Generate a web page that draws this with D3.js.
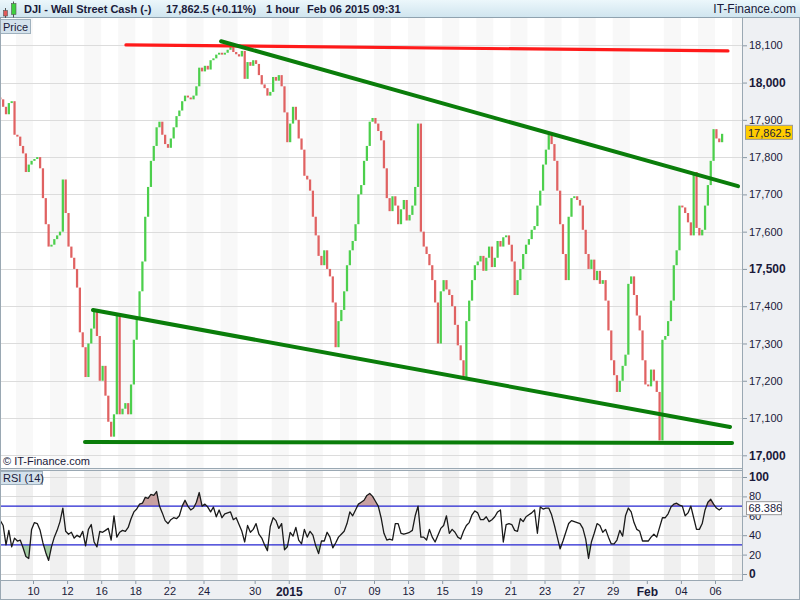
<!DOCTYPE html>
<html><head><meta charset="utf-8">
<script src="https://cdn.jsdelivr.net/npm/d3@7"></script>
<style>
html,body{margin:0;padding:0;background:#fff;}
svg{display:block;font-family:"Liberation Sans",Arial,sans-serif;}
</style></head><body>
<svg id="c" width="800" height="600"></svg>
<script>
// ---------- DATA ----------
const title = "DJI - Wall Street Cash (-)";
const quote = "17,862.5 (+0.11%)";
const period = "1 hour";
const stamp = "Feb 06 2015 09:31";

// hourly closes, grouped by trading day (Dec 08 2014 .. Feb 06 2015)
const firstOpen = 17960;
const closes = [
 17955,17935,17915,17945,17950,17860,
 17855,17830,17810,17760,17780,17790,
 17795,17800,17770,17690,17620,17560,
 17565,17580,17590,17600,17740,17650,
 17560,17530,17500,17450,17330,17290,
 17210,17300,17340,17385,17320,17200,
 17240,17160,17090,17050,17110,17380,
 17110,17125,17140,17110,17190,17310,
 17370,17440,17520,17640,17720,17790,
 17830,17880,17895,17860,17835,17825,
 17850,17880,17910,17925,17950,17965,
 17960,17955,17965,17990,18040,18030,
 18045,18035,18060,18065,18075,18080,
 18075,18080,18088,18095,18082,18076,
 18070,18085,18010,18055,18045,18060,
 18050,18020,17995,17985,17965,17975,
 18015,18005,18020,17990,17920,17840,
 17890,17935,17900,17850,17820,17750,
 17740,17710,17640,17590,17535,17510,
 17550,17500,17480,17410,17290,17360,
 17390,17440,17510,17550,17575,17620,
 17700,17725,17790,17830,17895,17905,
 17890,17870,17845,17770,17690,17655,
 17695,17670,17620,17660,17685,17630,
 17645,17670,17720,17890,17600,17560,
 17540,17510,17470,17410,17300,17440,
 17470,17445,17430,17400,17350,17295,
 17255,17210,17360,17415,17470,17510,
 17520,17535,17495,17530,17560,17505,
 17530,17575,17560,17585,17590,17565,
 17520,17430,17470,17500,17540,17565,
 17580,17605,17615,17670,17710,17780,
 17820,17860,17835,17790,17710,17620,
 17540,17470,17640,17690,17695,17685,
 17670,17605,17540,17500,17525,17470,
 17495,17460,17470,17415,17335,17255,
 17215,17170,17200,17240,17270,17460,
 17480,17430,17375,17335,17255,17190,
 17185,17230,17200,17170,17040,17310,
 17320,17360,17415,17510,17550,17670,
 17665,17650,17625,17590,17760,17610,
 17590,17605,17670,17725,17790,17875,
 17850,17840,17862.5
];

// RSI(14) values, one per bar
const rsiValues = [
 55,50,30,45,28,37, 34,35,27,18,16,46, 53,52,45,32,22,14, 28,38,45,54,68,44,
 41,43,37,40,38,44, 29,46,51,33,28,44, 43,45,47,35,60,38, 43,45,44,48,57,64,
 67,72,73,79,78,82, 81,85,70,63,55,52, 56,58,57,60,70,76, 70,66,68,74,84,70,
 72,69,64,69,59,66, 58,62,63,64,56,58, 51,44,33,50,43,46, 52,41,37,30,24,49,
 58,55,47,52,25,28, 43,39,48,35,31,46, 38,44,40,29,21,34, 34,43,38,27,32,38,
 41,44,52,64,60,66, 72,74,76,81,83,80, 75,70,58,42,35,36, 35,52,52,42,41,42,
 43,45,60,70,38,38, 35,46,38,33,40,47, 50,60,42,46,43,38, 36,44,50,53,61,65,
 63,56,56,59,54,56, 59,64,66,33,51,52, 51,45,44,57,54,59, 61,63,66,42,69,67,
 68,68,61,50,38,26, 34,43,52,55,54,53, 52,47,36,16,33,42, 52,50,43,46,38,31,
 31,35,45,39,60,68, 64,53,46,44,34,34, 34,38,41,38,48,58, 58,62,69,72,73,71,
 70,60,63,70,58,46, 46,52,66,74,77,72, 68,66,68.386
];

const priceTicks = [17000,17100,17200,17300,17400,17500,17600,17700,17800,17900,18000,18100];
const boldPriceTicks = [17000,17500,18000];
const rsiTicks = [0,20,40,60,80,100];
const boldRsiTicks = [0,100];
const rsiLevels = [30,70];

// day index: 0 = Dec 08 2014 ... 42 = Feb 06 2015
const axisDays   = [2,4,6,8,10,12,15,17,20,22,24,26,28,30,32,34,36,38,40,42];
const axisLabels = ["10","12","16","18","22","24","30","2015","07","09","13","15","19","21","23","27","29","Feb","04","06"];
const boldAxisLabels = ["2015","Feb"];
const shadedDays = [1,3,5,7,9,11,13,16,18,20,22,24,26,28,30,32,34,36,39,41,43];

// drawn trend lines: [day, price] end points
const redLine     = [[7.45,18101],[42.76,18085]];
const upperLine   = [[13.03,18111],[43.35,17722]];
const lowerLine   = [[5.52,17390],[42.88,17076]];
const supportLine = [[5.05,17036],[43.0,17033]];

const lastPrice = 17862.5;
const lastRsi = 68.386;

// ---------- LAYOUT ----------
const W = 800, H = 600;
const plotL = 1, plotR = 742;
const priceTop = 18, priceBot = 468;
const rsiTop = 470, rsiBot = 580;
const barsPerDay = 6;
const nDays = 43;
const green = "#4ccf4c", red = "#e06262";
const txt = "#1a1a3a";

const svg = d3.select("#c");

const x = d3.scaleLinear().domain([0, nDays]).range([-1.1, -1.1 + 17.05*nDays]);
const yP = d3.scaleLinear().domain([17000, 18100]).range([455.3, 45.3]);
const yR = d3.scaleLinear().domain([0, 100]).range([574, 477]);
const barPos = i => Math.floor(i/barsPerDay) + ((i%barsPerDay)+0.5)/barsPerDay;

// backgrounds
svg.append("rect").attr("width",W).attr("height",H).attr("fill","#eef0f3");
svg.append("rect").attr("x",plotL).attr("y",priceTop).attr("width",plotR-plotL).attr("height",priceBot-priceTop).attr("fill","#fff");
svg.append("rect").attr("x",plotL).attr("y",rsiTop).attr("width",plotR-plotL).attr("height",rsiBot-rsiTop).attr("fill","#fff");

const defs = svg.append("defs");
const hg = defs.append("linearGradient").attr("id","hg").attr("x1",0).attr("y1",0).attr("x2",0).attr("y2",1);
hg.append("stop").attr("offset","0%").attr("stop-color","#ecf7fb");
hg.append("stop").attr("offset","100%").attr("stop-color","#d0e5ef");
defs.append("clipPath").attr("id","cp").append("rect").attr("x",plotL).attr("y",priceTop).attr("width",plotR-plotL).attr("height",priceBot-priceTop);
defs.append("clipPath").attr("id","cr").append("rect").attr("x",plotL).attr("y",rsiTop).attr("width",plotR-plotL).attr("height",rsiBot-rsiTop);
defs.append("clipPath").attr("id","cOver").append("rect").attr("x",plotL).attr("y",rsiTop).attr("width",plotR-plotL).attr("height",yR(70)-rsiTop);
defs.append("clipPath").attr("id","cUnder").append("rect").attr("x",plotL).attr("y",yR(30)).attr("width",plotR-plotL).attr("height",rsiBot-yR(30));

// ---------- PRICE PANEL ----------
const gp = svg.append("g").attr("clip-path","url(#cp)");
gp.selectAll("rect.band").data(shadedDays).join("rect").attr("class","band")
  .attr("x",d=>x(d)).attr("width",d=>x(d+1)-x(d)).attr("y",priceTop).attr("height",priceBot-priceTop).attr("fill","#f8f8f8");
gp.selectAll("line.grid").data(priceTicks).join("line").attr("class","grid")
  .attr("x1",plotL).attr("x2",plotR).attr("y1",d=>Math.round(yP(d))+0.5).attr("y2",d=>Math.round(yP(d))+0.5)
  .attr("stroke","#dcdcdc");

const bars = closes.map((c,i)=>({i, open: i ? closes[i-1] : firstOpen, close: c}));
const slot = x(1/barsPerDay) - x(0);
const bw = slot - 0.6;
gp.selectAll("rect.bar").data(bars).join("rect").attr("class","bar")
  .attr("x",d=>x(barPos(d.i)) - bw/2).attr("width",bw)
  .attr("y",d=>yP(Math.max(d.open,d.close)))
  .attr("height",d=>Math.max(1, Math.abs(yP(d.open)-yP(d.close))))
  .attr("fill",d=>d.close>=d.open ? green : red);

const tl = (pts,color,w) => gp.append("line")
  .attr("x1",x(pts[0][0])).attr("y1",yP(pts[0][1])).attr("x2",x(pts[1][0])).attr("y2",yP(pts[1][1]))
  .attr("stroke",color).attr("stroke-width",w).attr("stroke-linecap","round");
tl(redLine,"#ff1a1a",3.2);
tl(upperLine,"#0a7d0a",4);
tl(lowerLine,"#0a7d0a",4);
tl(supportLine,"#0a7d0a",4);

svg.append("text").attr("x",3).attr("y",465).attr("font-size",11).attr("fill",txt).text("© IT-Finance.com");

// price label box
svg.append("rect").attr("x",0.5).attr("y",19.5).attr("width",30).attr("height",14).attr("fill","#d4e2ec").attr("stroke","#9fb1be");
svg.append("text").attr("x",3).attr("y",30.5).attr("font-size",11).attr("fill",txt).text("Price");

// price axis
const pa = svg.append("g").attr("transform",`translate(${plotR},0)`)
  .call(d3.axisRight(yP).tickValues(priceTicks).tickSize(5).tickPadding(2).tickFormat(d3.format(",")));
pa.select(".domain").remove();
pa.selectAll(".tick line").attr("stroke","#8a98a4");
pa.selectAll(".tick text").attr("fill",txt).attr("font-family","Liberation Sans, Arial, sans-serif")
  .attr("font-size",d=>boldPriceTicks.includes(d)?12:11).attr("font-weight",d=>boldPriceTicks.includes(d)?"bold":"normal");

// current price marker
const py = yP(lastPrice);
svg.append("rect").attr("x",745.5).attr("y",py-8.5).attr("width",47).attr("height",14).attr("fill","#ffcc00").attr("stroke","#9a9a9a");
svg.append("text").attr("x",748).attr("y",py+3).attr("font-size",11).attr("fill",txt).text(d3.format(",.1f")(lastPrice));

// ---------- RSI PANEL ----------
const gr = svg.append("g").attr("clip-path","url(#cr)");
gr.selectAll("rect.band").data(shadedDays).join("rect").attr("class","band")
  .attr("x",d=>x(d)).attr("width",d=>x(d+1)-x(d)).attr("y",rsiTop).attr("height",rsiBot-rsiTop).attr("fill","#f0f0f0");
gr.selectAll("line.grid").data(rsiTicks).join("line").attr("class","grid")
  .attr("x1",plotL).attr("x2",plotR).attr("y1",d=>Math.round(yR(d))+0.5).attr("y2",d=>Math.round(yR(d))+0.5)
  .attr("stroke","#dadada");

const rsiPts = rsiValues.map((v,i)=>({i,v}));
gr.append("path").datum(rsiPts).attr("clip-path","url(#cOver)")
  .attr("d",d3.area().x(d=>x(barPos(d.i))).y0(yR(70)).y1(d=>yR(d.v)))
  .attr("fill","#c9a1a1");
gr.append("path").datum(rsiPts).attr("clip-path","url(#cUnder)")
  .attr("d",d3.area().x(d=>x(barPos(d.i))).y0(yR(30)).y1(d=>yR(d.v)))
  .attr("fill","#a3cca3");
gr.selectAll("line.lvl").data(rsiLevels).join("line").attr("class","lvl")
  .attr("x1",plotL).attr("x2",plotR).attr("y1",d=>yR(d)).attr("y2",d=>yR(d)).attr("stroke","#2424d0").attr("stroke-width",1.2);
gr.append("path").datum(rsiPts)
  .attr("d",d3.line().x(d=>x(barPos(d.i))).y(d=>yR(d.v)))
  .attr("fill","none").attr("stroke","#1a1a1a").attr("stroke-width",1.3).attr("stroke-linejoin","round");

svg.append("rect").attr("x",0.5).attr("y",471.5).attr("width",42).attr("height",13).attr("fill","#d4e2ec").attr("stroke","#9fb1be");
svg.append("text").attr("x",3).attr("y",482).attr("font-size",11).attr("fill",txt).text("RSI (14)");

const ra = svg.append("g").attr("transform",`translate(${plotR},0)`)
  .call(d3.axisRight(yR).tickValues(rsiTicks).tickSize(5).tickPadding(2));
ra.select(".domain").remove();
ra.selectAll(".tick line").attr("stroke","#8a98a4");
ra.selectAll(".tick text").attr("fill",txt).attr("font-family","Liberation Sans, Arial, sans-serif")
  .attr("font-size",d=>boldRsiTicks.includes(d)?12:11).attr("font-weight",d=>boldRsiTicks.includes(d)?"bold":"normal");

// current RSI marker (sits over the 60 label, as in the original)
const ry = yR(lastRsi);
svg.append("rect").attr("x",746.5).attr("y",ry-6).attr("width",35).attr("height",13).attr("fill","#fff").attr("stroke","#9a9a9a");
svg.append("text").attr("x",748.5).attr("y",ry+4.5).attr("font-size",11).attr("fill",txt).text(lastRsi);

// ---------- X AXIS ----------
const xa = svg.append("g").attr("transform",`translate(0,${rsiBot})`)
  .call(d3.axisBottom(x).tickValues(axisDays).tickSize(4).tickPadding(3).tickFormat((d,i)=>axisLabels[i]));
xa.select(".domain").remove();
xa.selectAll(".tick line").attr("stroke","#8a98a4");
xa.selectAll(".tick text").attr("fill",txt).attr("font-family","Liberation Sans, Arial, sans-serif")
  .attr("font-size",(d,i)=>boldAxisLabels.includes(axisLabels[i])?12:11)
  .attr("font-weight",(d,i)=>boldAxisLabels.includes(axisLabels[i])?"bold":"normal");

// ---------- FRAME LINES ----------
const frame = svg.append("g").attr("stroke","#9aa8b3").attr("fill","none");
frame.append("line").attr("x1",0.5).attr("x2",0.5).attr("y1",17).attr("y2",H);
frame.append("line").attr("x1",plotR+0.5).attr("x2",plotR+0.5).attr("y1",17).attr("y2",rsiBot);
frame.append("line").attr("x1",0).attr("x2",plotR).attr("y1",priceBot+0.5).attr("y2",priceBot+0.5);
frame.append("line").attr("x1",0).attr("x2",plotR).attr("y1",rsiTop+0.5).attr("y2",rsiTop+0.5);
frame.append("line").attr("x1",0).attr("x2",plotR+1).attr("y1",rsiBot+0.5).attr("y2",rsiBot+0.5);
frame.append("line").attr("x1",0).attr("x2",W).attr("y1",H-0.5).attr("y2",H-0.5);
frame.append("line").attr("x1",W-0.5).attr("x2",W-0.5).attr("y1",0).attr("y2",H);

// ---------- HEADER ----------
svg.append("rect").attr("x",0).attr("y",0).attr("width",W).attr("height",17).attr("fill","url(#hg)");
svg.append("line").attr("x1",0).attr("x2",W).attr("y1",17.5).attr("y2",17.5).attr("stroke","#8fa2af");
// icon
svg.append("line").attr("x1",5.5).attr("x2",5.5).attr("y1",8).attr("y2",18).attr("stroke","#555");
svg.append("rect").attr("x",3.5).attr("y",10.5).attr("width",4).attr("height",5.5).attr("fill","#e05a5a").attr("stroke","#555").attr("stroke-width",0.6);
svg.append("line").attr("x1",13.5).attr("x2",13.5).attr("y1",1.5).attr("y2",17.5).attr("stroke","#555");
svg.append("rect").attr("x",11.5).attr("y",3.5).attr("width",4.5).attr("height",11).attr("fill","#3fcf3f").attr("stroke","#555").attr("stroke-width",0.6);

const hdr = svg.append("g").attr("font-size",11).attr("font-weight","bold").attr("fill",txt);
hdr.append("text").attr("x",24).attr("y",13).text(title);
hdr.append("text").attr("x",166).attr("y",13).text(quote);
hdr.append("text").attr("x",266).attr("y",13).text(period);
hdr.append("text").attr("x",307).attr("y",13).text(stamp);
svg.append("text").attr("x",796).attr("y",13).attr("text-anchor","end").attr("font-size",12).attr("fill",txt).text("IT-Finance.com");
</script>
</body></html>
